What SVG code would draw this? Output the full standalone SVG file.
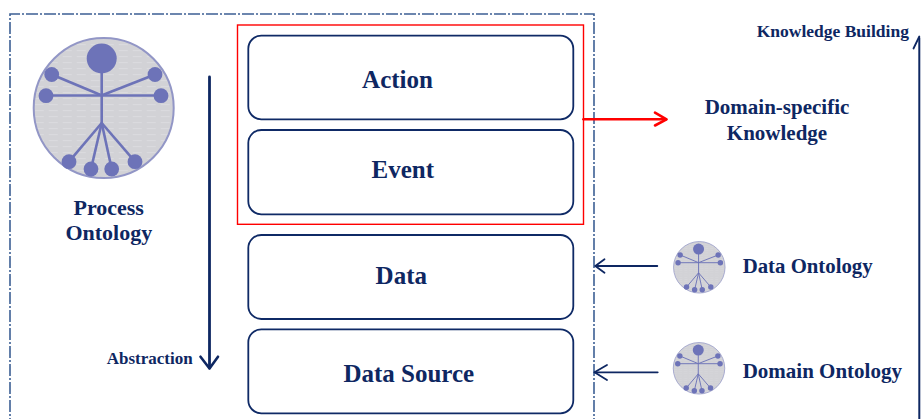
<svg xmlns="http://www.w3.org/2000/svg" width="921" height="419" viewBox="0 0 921 419">
  <style>
    .frame { fill: none; stroke: #3c5f94; stroke-width: 1.6; stroke-dasharray: 12 2 2 2; }
    .layer { fill: #ffffff; stroke: #0f2a66; stroke-width: 1.8; }
    .lbl { font-family: 'Liberation Serif', 'Times New Roman', serif; font-weight: 700; fill: #0e2762; }
    .big { font-size: 25px; text-anchor: middle; }
    .navy { fill: none; stroke: #0e2762; stroke-linecap: round; stroke-linejoin: round; }
    .red { fill: none; stroke: #ff0000; stroke-linecap: round; stroke-linejoin: round; }
  </style>
  <defs>
    <pattern id="texture" width="14" height="6" patternUnits="userSpaceOnUse">
      <rect width="14" height="6" fill="#d2d2d6"/>
      <rect x="1" y="2" width="9" height="1.2" fill="#dadade"/>
    </pattern>
    <!-- ontology emblem: figure inside a grey disc, drawn around the origin, radius 70 -->
    <symbol id="emblem" viewBox="-72 -72 144 144" overflow="visible">
      <circle cx="0" cy="0" r="70" fill="url(#texture)" stroke="#9296c6" stroke-width="2"/>
      <g stroke="#6d73b8" stroke-width="2.6" fill="none">
        <line x1="-2" y1="-40" x2="-2" y2="15"/>
        <line x1="-52" y1="-33.5" x2="-3" y2="-13"/>
        <line x1="51.3" y1="-33.5" x2="-1" y2="-13"/>
        <line x1="-57.7" y1="-12.5" x2="57.3" y2="-12.5"/>
        <line x1="-2" y1="15" x2="-34.7" y2="53.7"/>
        <line x1="-2" y1="15" x2="-12.7" y2="61"/>
        <line x1="-2" y1="15" x2="8" y2="61"/>
        <line x1="-2" y1="15" x2="31.3" y2="53.7"/>
      </g>
      <g fill="#6d73b8">
        <circle cx="-2" cy="-49.5" r="15"/>
        <circle cx="-52" cy="-33.5" r="7.4"/>
        <circle cx="51.3" cy="-33.5" r="7.4"/>
        <circle cx="-57.7" cy="-12.3" r="7.4"/>
        <circle cx="57.3" cy="-12.3" r="7.4"/>
        <circle cx="-34.7" cy="53.7" r="7.4"/>
        <circle cx="-12.7" cy="61" r="7.4"/>
        <circle cx="8" cy="61" r="7.4"/>
        <circle cx="31.3" cy="53.7" r="7.4"/>
      </g>
    </symbol>
  </defs>

  <rect width="921" height="419" fill="#ffffff"/>

  <!-- dashed frame around the layered stack -->
  <path class="frame" d="M10 430 V14 H594 V430"/>

  <!-- process ontology -->
  <g id="process-ontology">
    <use href="#emblem" x="31.7" y="36" width="144" height="144"/>
    <text class="lbl" x="108.7" y="215" font-size="22" text-anchor="middle">Process</text>
    <text class="lbl" x="108.8" y="240" font-size="22" text-anchor="middle">Ontology</text>
  </g>

  <!-- highlight around the upper layers -->
  <rect id="knowledge-scope" x="237.5" y="25" width="346" height="199.3" fill="none" stroke="#ff0000" stroke-width="1.4"/>

  <g id="action">
    <rect class="layer" x="248.3" y="35.7" width="325" height="83.6" rx="13"/>
    <text class="lbl big" x="397.5" y="87.5">Action</text>
  </g>
  <g id="event">
    <rect class="layer" x="248.3" y="130" width="325" height="84.3" rx="13"/>
    <text class="lbl big" x="402.8" y="178.3">Event</text>
  </g>
  <g id="data">
    <rect class="layer" x="248.3" y="235" width="325" height="84" rx="13"/>
    <text class="lbl big" x="401.3" y="284">Data</text>
  </g>
  <g id="data-source">
    <rect class="layer" x="248.3" y="329.3" width="325" height="84" rx="13"/>
    <text class="lbl big" x="408.8" y="381.7">Data Source</text>
  </g>

  <g id="domain-knowledge">
    <text class="lbl" x="777" y="114" font-size="21" text-anchor="middle">Domain-specific</text>
    <text class="lbl" x="777" y="140" font-size="21" text-anchor="middle">Knowledge</text>
  </g>

  <g id="data-ontology">
    <use href="#emblem" x="672.8" y="240.8" width="53" height="53"/>
    <text class="lbl" x="742.7" y="272.7" font-size="20.8">Data Ontology</text>
  </g>
  <g id="domain-ontology">
    <use href="#emblem" x="672.5" y="341.8" width="53" height="53"/>
    <text class="lbl" x="742.7" y="378.3" font-size="21">Domain Ontology</text>
  </g>

  <g id="abstraction-label">
    <text class="lbl" x="106.7" y="364.3" font-size="17">Abstraction</text>
  </g>
  <g id="knowledge-building-label">
    <text class="lbl" x="756.7" y="36.7" font-size="17.5">Knowledge Building</text>
  </g>

  <!-- connectors -->
  <g id="connectors">
    <!-- abstraction axis -->
    <path class="navy" stroke-width="2.8" d="M209.5 77 V368"/>
    <path class="navy" stroke-width="2.6" d="M200.5 356.7 L209.5 368.5 L218 356.7"/>
    <!-- knowledge building axis -->
    <path class="navy" stroke-width="2" d="M919.3 38 V430"/>
    <path class="navy" stroke-width="1.8" d="M913.5 48.5 L919.3 36.5"/>
    <!-- highlighted layers to domain-specific knowledge -->
    <path class="red" stroke-width="2.6" d="M583.5 119.3 H666"/>
    <path class="red" stroke-width="2.6" d="M655 112.7 L666.5 119.3 L655 125.5"/>
    <!-- ontologies feeding the data layers -->
    <path class="navy" stroke-width="1.8" d="M657.3 266 H595.5"/>
    <path class="navy" stroke-width="1.8" d="M604.5 259.3 L595.3 266 L604.5 272.7"/>
    <path class="navy" stroke-width="1.8" d="M657.7 372.3 H594.5"/>
    <path class="navy" stroke-width="1.8" d="M607 365 L594.5 372.3 L607 380"/>
  </g>
</svg>
